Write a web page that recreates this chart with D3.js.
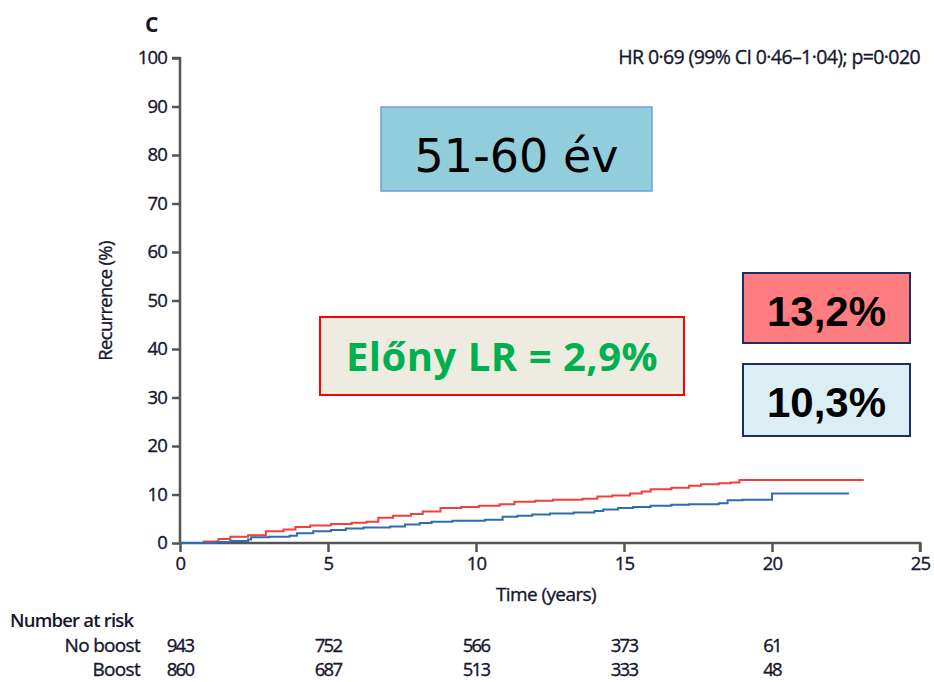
<!DOCTYPE html>
<html>
<head>
<meta charset="utf-8">
<script src="https://cdn.jsdelivr.net/npm/d3@7"></script>
<style>
  body { margin: 0; background: #fff; }
  svg { display: block; }
  .lbl { stroke: #16162e; stroke-width: 0.35px; }
</style>
</head>
<body>
<script>
// Data
var xTicks = [0, 5, 10, 15, 20, 25];
var yTicks = [0, 10, 20, 30, 40, 50, 60, 70, 80, 90, 100];

// No boost (red)
var noBoostTime = [0, 0.8, 1.3, 1.7, 2.3, 2.9, 3.5, 3.9, 4.4, 5.1, 5.8, 6.3, 6.7, 7.2, 7.8, 8.2, 8.8, 9.5, 10.1, 10.8, 11.3, 12.0, 12.6, 13.6, 14.1, 14.6, 15.2, 15.6, 15.9, 16.6, 17.2, 17.6, 18.2, 18.6, 18.9, 23.1];
var noBoostPct  = [0, 0.3, 0.8, 1.3, 1.6, 2.4, 2.8, 3.3, 3.6, 3.9, 4.2, 4.4, 5.2, 5.6, 6.0, 6.5, 7.2, 7.4, 7.7, 8.0, 8.5, 8.7, 8.9, 9.1, 9.6, 9.8, 10.2, 10.6, 11.1, 11.4, 11.8, 12.1, 12.3, 12.5, 13.0, 13.0];

// Boost (blue)
var boostTime = [0, 1.2, 1.7, 2.3, 2.4, 3.0, 3.7, 3.95, 4.5, 5.1, 5.6, 6.2, 7.1, 7.6, 8.1, 8.5, 9.2, 10.3, 10.9, 11.4, 11.9, 12.5, 13.3, 14.0, 14.3, 14.8, 15.3, 15.9, 16.6, 17.2, 18.2, 18.5, 19.0, 20.0, 22.6];
var boostPct  = [0, 0.2, 0.4, 0.7, 1.2, 1.3, 1.5, 2.0, 2.4, 2.7, 3.0, 3.2, 3.4, 3.8, 4.1, 4.4, 4.6, 4.8, 5.4, 5.6, 5.9, 6.1, 6.3, 6.6, 6.9, 7.2, 7.4, 7.7, 7.9, 8.0, 8.2, 8.8, 8.9, 10.2, 10.2];

// Number at risk
var riskTimes = [0, 5, 10, 15, 20];
var riskNoBoost = [943, 752, 566, 373, 61];
var riskBoost = [860, 687, 513, 333, 48];

var WIDTH = 934;
var HEIGHT = 682;
var FONT = "'Open Sans', sans-serif";
var axisColor = "#555";
var textColor = "#16162e";

var svg = d3.select("body").append("svg")
    .attr("width", WIDTH)
    .attr("height", HEIGHT);

var x = d3.scaleLinear().domain([0, 25]).range([180, 920]);
var y = d3.scaleLinear().domain([0, 100]).range([543, 58]);

// Panel letter
svg.append("text")
    .attr("x", 145).attr("y", 32)
    .attr("font-family", FONT).attr("font-weight", "bold")
    .attr("font-size", 21).attr("fill", textColor)
    .text("C");

// Y axis
var yAxis = svg.append("g")
    .attr("transform", "translate(180,0)")
    .call(d3.axisLeft(y).tickValues(yTicks).tickSize(8).tickPadding(5));
// X axis
var xAxis = svg.append("g")
    .attr("transform", "translate(0,543)")
    .call(d3.axisBottom(x).tickValues(xTicks).tickSize(9).tickPadding(5));

[yAxis, xAxis].forEach(function(a) {
    a.select(".domain").attr("stroke", axisColor).attr("stroke-width", 2.5);
    a.selectAll(".tick line").attr("stroke", axisColor).attr("stroke-width", 2.5);
    a.selectAll(".tick text")
        .attr("class", "lbl")
        .attr("font-family", FONT).attr("font-size", 18.5)
        .attr("letter-spacing", -0.8).attr("fill", textColor);
});
// squared ends like the original
yAxis.select(".domain").attr("d", "M-8,58H0V543");
xAxis.select(".domain").attr("d", "M180,0H920V9");

// Axis titles
svg.append("text")
    .attr("class", "lbl")
    .attr("transform", "translate(112,301) rotate(-90)")
    .attr("text-anchor", "middle")
    .attr("font-family", FONT).attr("font-size", 18.5)
    .attr("letter-spacing", -0.7).attr("fill", textColor)
    .text("Recurrence (%)");
svg.append("text")
    .attr("class", "lbl")
    .attr("x", 546).attr("y", 601)
    .attr("text-anchor", "middle")
    .attr("font-family", FONT).attr("font-size", 19)
    .attr("letter-spacing", -0.6).attr("fill", textColor)
    .text("Time (years)");

// HR text
svg.append("text")
    .attr("class", "lbl")
    .attr("x", 920).attr("y", 64)
    .attr("text-anchor", "end")
    .attr("font-family", FONT).attr("font-size", 19.5)
    .attr("letter-spacing", -0.6).attr("fill", textColor)
    .text("HR 0\u00b769 (99% CI 0\u00b746\u20131\u00b704); p=0\u00b7020");

// Curves
var line = d3.line()
    .x(function(d) { return x(d[0]); })
    .y(function(d) { return y(d[1]); })
    .curve(d3.curveStepAfter);

var series = [
    { name: "No boost", color: "#f0403c", pts: d3.zip(noBoostTime, noBoostPct) },
    { name: "Boost", color: "#2f6db3", pts: d3.zip(boostTime, boostPct) }
];

svg.selectAll("path.km").data(series).enter().append("path")
    .attr("class", "km")
    .attr("d", function(d) { return line(d.pts); })
    .attr("fill", "none")
    .attr("stroke", function(d) { return d.color; })
    .attr("stroke-width", 2);

// Number at risk table
svg.append("text")
    .attr("x", 10).attr("y", 627)
    .attr("font-family", FONT).attr("font-size", 18.5).attr("font-weight", 600)
    .attr("letter-spacing", -0.8).attr("fill", textColor)
    .text("Number at risk");

var riskRows = [
    { label: "No boost", vals: riskNoBoost, y: 652 },
    { label: "Boost", vals: riskBoost, y: 676 }
];
riskRows.forEach(function(r) {
    svg.append("text")
        .attr("class", "lbl")
        .attr("x", 140).attr("y", r.y)
        .attr("text-anchor", "end")
        .attr("font-family", FONT).attr("font-size", 19)
        .attr("letter-spacing", -0.7).attr("fill", textColor)
        .text(r.label);
    svg.selectAll(null).data(r.vals).enter().append("text")
        .attr("class", "lbl")
        .attr("x", function(d, i) { return x(riskTimes[i]); })
        .attr("y", r.y)
        .attr("text-anchor", "middle")
        .attr("font-family", FONT).attr("font-size", 18.5)
        .attr("letter-spacing", -1.8).attr("fill", textColor)
        .text(function(d) { return d; });
});

// Annotation boxes
var boxes = [
    { x: 381, y: 107, w: 271, h: 84, fill: "#92cddc", stroke: "#6f9fd8", sw: 1.5,
      text: "51-60 \u00e9v", tc: "#000", fs: 46, fw: "normal", ls: 0, font: "Tahoma, 'DejaVu Sans', sans-serif", ty: 172 },
    { x: 320, y: 317, w: 364, h: 78, fill: "#eeece1", stroke: "#ff0000", sw: 2,
      text: "El\u0151ny LR = 2,9%", tc: "#00b050", fs: 40, fw: "bold", ls: 0.5, font: "'Open Sans', sans-serif", ty: 371 },
    { x: 743, y: 273, w: 167, h: 70, fill: "#ff7c80", stroke: "#1f2d5e", sw: 2,
      text: "13,2%", tc: "#000", fs: 42, fw: "bold", ls: 0, font: "Arial, 'Liberation Sans', sans-serif", ty: 326 },
    { x: 743, y: 364, w: 167, h: 72, fill: "#daeef3", stroke: "#1f2d5e", sw: 2,
      text: "10,3%", tc: "#000", fs: 42, fw: "bold", ls: 0, font: "Arial, 'Liberation Sans', sans-serif", ty: 417 }
];

var bg = svg.selectAll("g.box").data(boxes).enter().append("g").attr("class", "box");
bg.append("rect")
    .attr("x", function(d) { return d.x; })
    .attr("y", function(d) { return d.y; })
    .attr("width", function(d) { return d.w; })
    .attr("height", function(d) { return d.h; })
    .attr("fill", function(d) { return d.fill; })
    .attr("stroke", function(d) { return d.stroke; })
    .attr("stroke-width", function(d) { return d.sw; });
bg.append("text")
    .attr("x", function(d) { return d.x + d.w / 2; })
    .attr("y", function(d) { return d.ty; })
    .attr("text-anchor", "middle")
    .attr("font-family", function(d) { return d.font; })
    .attr("font-size", function(d) { return d.fs; })
    .attr("font-weight", function(d) { return d.fw; })
    .attr("letter-spacing", function(d) { return d.ls; })
    .attr("fill", function(d) { return d.tc; })
    .text(function(d) { return d.text; });
</script>
</body>
</html>
